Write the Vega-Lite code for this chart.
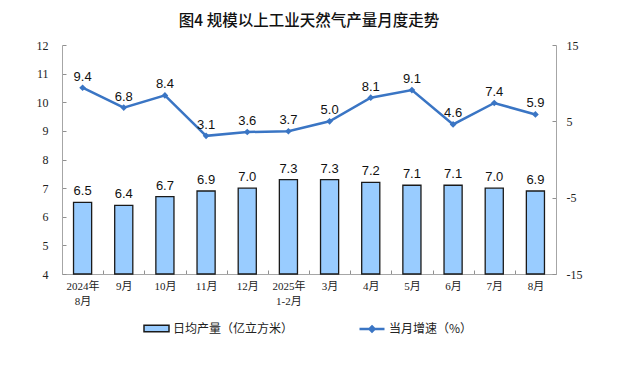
{
  "$schema": "https://vega.github.io/schema/vega-lite/v6.json",
  "width": 494,
  "height": 229,
  "autosize": {"type": "none"},
  "padding": {"left": 62, "top": 45, "right": 69, "bottom": 104},
  "background": "white",
  "title": {
    "text": "图4 规模以上工业天然气产量月度走势",
    "font": "Noto Sans CJK SC",
    "fontSize": 15.5,
    "fontWeight": 500,
    "color": "#111",
    "anchor": "middle",
    "offset": 10
  },
  "config": {
    "view": {"stroke": null},
    "axis": {"grid": false, "domainColor": "#A6A6A6", "tickColor": "#909090", "labelColor": "#222", "labelOverlap": false},
    "legend": {
      "title": null,
      "orient": "none",
      "symbolSize": 625,
      "labelOffset": 3,
      "labelFont": "Noto Sans CJK SC",
      "labelFontSize": 12,
      "labelColor": "#222",
      "symbolOpacity": 1
    }
  },
  "data": {
    "values": [
      {"month": "2024年 8月", "prod": 6.5, "growth": 9.4},
      {"month": "9月", "prod": 6.4, "growth": 6.8},
      {"month": "10月", "prod": 6.7, "growth": 8.4},
      {"month": "11月", "prod": 6.9, "growth": 3.1},
      {"month": "12月", "prod": 7.0, "growth": 3.6},
      {"month": "2025年 1-2月", "prod": 7.3, "growth": 3.7},
      {"month": "3月", "prod": 7.3, "growth": 5.0},
      {"month": "4月", "prod": 7.2, "growth": 8.1},
      {"month": "5月", "prod": 7.1, "growth": 9.1},
      {"month": "6月", "prod": 7.1, "growth": 4.6},
      {"month": "7月", "prod": 7.0, "growth": 7.4},
      {"month": "8月", "prod": 6.9, "growth": 5.9}
    ]
  },
  "encoding": {
    "x": {
      "field": "month",
      "type": "nominal",
      "sort": null,
      "scale": {"paddingInner": 0, "paddingOuter": 0},
      "axis": {
        "title": null,
        "labelAngle": 0,
        "tickBand": "extent",
        "tickSize": -4,
        "labelPadding": 10,
        "labelFont": "Liberation Serif, Noto Sans CJK SC",
        "labelFontSize": 11,
        "labelLineHeight": 15,
        "labelExpr": "split(datum.label, ' ')"
      }
    }
  },
  "layer": [
    {
      "encoding": {
        "y": {
          "field": "prod",
          "type": "quantitative",
          "scale": {"domain": [4, 12], "zero": false, "nice": false},
          "axis": {
            "title": null,
            "values": [4, 5, 6, 7, 8, 9, 10, 11, 12],
            "tickSize": -4,
            "labelPadding": 18,
            "labelFont": "Liberation Serif",
            "labelFontSize": 12
          }
        }
      },
      "layer": [
        {
          "mark": {"type": "bar", "width": {"band": 0.44}, "stroke": "#1A1A1A", "strokeWidth": 1.3},
          "encoding": {
            "y2": {"datum": 4},
            "fill": {
              "datum": "日均产量（亿立方米）",
              "scale": {"range": ["#99CCFF"]},
              "legend": {
                "legendX": 81,
                "legendY": 270,
                "symbolType": "M-1,-0.26H1V0.26H-1Z",
                "symbolStrokeColor": "#1A1A1A",
                "symbolStrokeWidth": 1.5,
                "symbolFillColor": "#99CCFF"
              }
            }
          }
        },
        {
          "mark": {"type": "text", "baseline": "middle", "dy": -11, "font": "Liberation Sans", "fontSize": 13, "color": "#111"},
          "encoding": {
            "text": {"field": "prod", "type": "quantitative", "format": ".1f"}
          }
        }
      ]
    },
    {
      "encoding": {
        "y": {
          "field": "growth",
          "type": "quantitative",
          "scale": {"domain": [-15, 15], "nice": false},
          "axis": {
            "title": null,
            "orient": "right",
            "values": [-15, -5, 5, 15],
            "tickSize": -4,
            "labelPadding": 14,
            "labelFont": "Liberation Serif",
            "labelFontSize": 12,
            "labelExpr": "'' + datum.value"
          }
        }
      },
      "layer": [
        {
          "mark": {"type": "line", "strokeWidth": 2.5},
          "encoding": {
            "stroke": {
              "datum": "当月增速（%）",
              "scale": {"range": ["#3A75C4"]},
              "legend": {
                "legendX": 296,
                "legendY": 270,
                "symbolType": "M-1,0H1M0,-0.2L0.2,0L0,0.2L-0.2,0Z",
                "symbolStrokeColor": "#3A75C4",
                "symbolFillColor": "#3A75C4",
                "symbolStrokeWidth": 2.5
              }
            }
          }
        },
        {
          "mark": {"type": "point", "shape": "diamond", "filled": true, "size": 45, "color": "#3A75C4", "opacity": 1},
          "encoding": {}
        },
        {
          "mark": {"type": "text", "baseline": "middle", "dy": -11, "font": "Liberation Sans", "fontSize": 13, "color": "#111"},
          "encoding": {
            "text": {"field": "growth", "type": "quantitative", "format": ".1f"}
          }
        }
      ]
    }
  ],
  "resolve": {"scale": {"y": "independent"}}
}
